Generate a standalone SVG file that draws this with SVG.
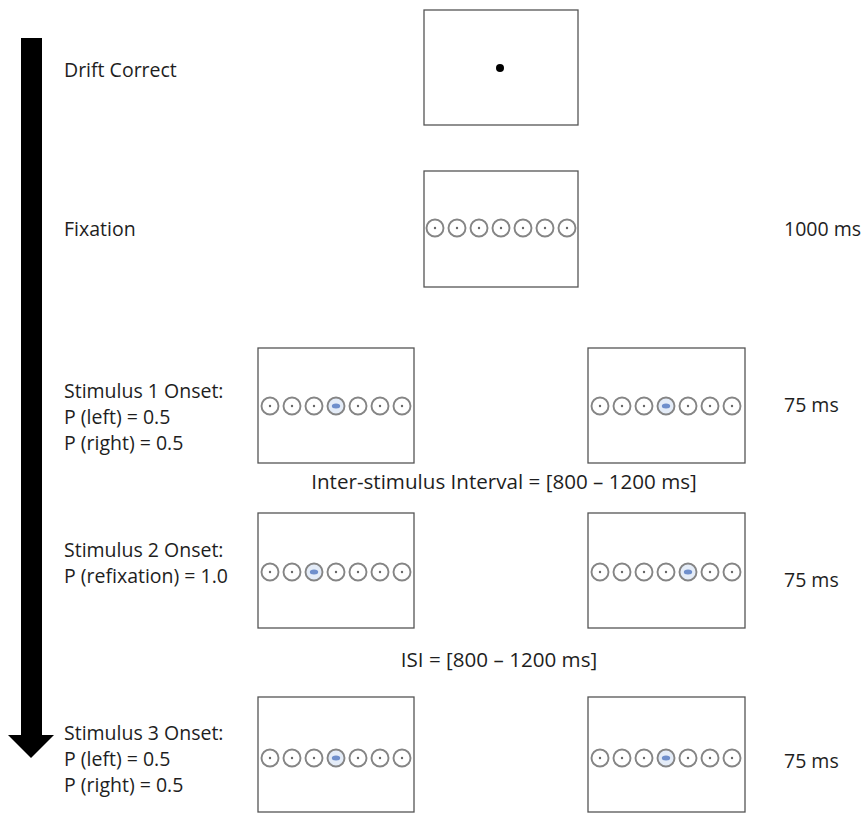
<svg xmlns="http://www.w3.org/2000/svg" xmlns:xlink="http://www.w3.org/1999/xlink" width="866" height="814" viewBox="0 0 866 814">
<style>
.box{fill:#fff;stroke:#555;stroke-width:1.3}
.t{font-family:"Open Sans","Liberation Sans",sans-serif;font-size:19.5px;fill:#1e1e1e}
.c{font-size:20.6px}
.ring{fill:#fff;stroke:#858585;stroke-width:1.9}
.dot{fill:#666}
.hl{fill:#e4ecf8;stroke:#858585;stroke-width:1.9}
.blue{fill:#6f8fcc}
</style>
<defs>
<g id="c"><circle class="ring" r="8.5"/><circle class="dot" r="1.2"/></g>
<g id="h"><circle class="hl" r="8.5"/><ellipse class="blue" rx="4.2" ry="2.5"/></g>
</defs>
<rect width="866" height="814" fill="#fff"/>
<g id="connectors">
<rect x="21" y="38" width="21" height="700" fill="#000"/>
<polygon points="8,735 54,735 31,758" fill="#000"/>
</g>
<g id="drift">
<rect class="box" x="424" y="10" width="154" height="115"/>
<circle cx="500" cy="68" r="4" fill="#000"/>
<text class="t" x="64" y="77">Drift Correct</text>
</g>
<g id="fixation">
<rect class="box" x="424" y="171" width="154" height="116"/>
<use xlink:href="#c" x="435" y="228"/><use xlink:href="#c" x="457" y="228"/><use xlink:href="#c" x="479" y="228"/><use xlink:href="#c" x="501" y="228"/><use xlink:href="#c" x="523" y="228"/><use xlink:href="#c" x="545" y="228"/><use xlink:href="#c" x="567" y="228"/>
<text class="t" x="64" y="236">Fixation</text>
<text class="t" x="784" y="236">1000 ms</text>
</g>
<g id="stim1">
<text class="t" x="64" y="398">Stimulus 1 Onset:</text>
<text class="t" x="64" y="424">P (left) = 0.5</text>
<text class="t" x="64" y="450">P (right) = 0.5</text>
<text class="t" x="784" y="412">75 ms</text>
</g>
<g id="stim1-left">
<rect class="box" x="258" y="348" width="156" height="115"/>
<use xlink:href="#c" x="270" y="406"/><use xlink:href="#c" x="292" y="406"/><use xlink:href="#c" x="314" y="406"/><use xlink:href="#h" x="336" y="406"/><use xlink:href="#c" x="358" y="406"/><use xlink:href="#c" x="380" y="406"/><use xlink:href="#c" x="402" y="406"/>
</g>
<g id="stim1-right">
<rect class="box" x="588" y="348" width="157" height="115"/>
<use xlink:href="#c" x="600" y="406"/><use xlink:href="#c" x="622" y="406"/><use xlink:href="#c" x="644" y="406"/><use xlink:href="#h" x="666" y="406"/><use xlink:href="#c" x="688" y="406"/><use xlink:href="#c" x="710" y="406"/><use xlink:href="#c" x="732" y="406"/>
</g>
<g id="isi1">
<text class="t c" x="504" y="489" text-anchor="middle">Inter-stimulus Interval = [800 – 1200 ms]</text>
</g>
<g id="stim2">
<text class="t" x="64" y="557">Stimulus 2 Onset:</text>
<text class="t" x="64" y="583">P (refixation) = 1.0</text>
<text class="t" x="784" y="587">75 ms</text>
</g>
<g id="stim2-left">
<rect class="box" x="258" y="513" width="156" height="115"/>
<use xlink:href="#c" x="270" y="572"/><use xlink:href="#c" x="292" y="572"/><use xlink:href="#h" x="314" y="572"/><use xlink:href="#c" x="336" y="572"/><use xlink:href="#c" x="358" y="572"/><use xlink:href="#c" x="380" y="572"/><use xlink:href="#c" x="402" y="572"/>
</g>
<g id="stim2-right">
<rect class="box" x="588" y="513" width="157" height="115"/>
<use xlink:href="#c" x="600" y="572"/><use xlink:href="#c" x="622" y="572"/><use xlink:href="#c" x="644" y="572"/><use xlink:href="#c" x="666" y="572"/><use xlink:href="#h" x="688" y="572"/><use xlink:href="#c" x="710" y="572"/><use xlink:href="#c" x="732" y="572"/>
</g>
<g id="isi2">
<text class="t c" x="499" y="667" text-anchor="middle">ISI = [800 – 1200 ms]</text>
</g>
<g id="stim3">
<text class="t" x="64" y="740">Stimulus 3 Onset:</text>
<text class="t" x="64" y="766">P (left) = 0.5</text>
<text class="t" x="64" y="792">P (right) = 0.5</text>
<text class="t" x="784" y="768">75 ms</text>
</g>
<g id="stim3-left">
<rect class="box" x="258" y="697" width="156" height="115"/>
<use xlink:href="#c" x="270" y="758"/><use xlink:href="#c" x="292" y="758"/><use xlink:href="#c" x="314" y="758"/><use xlink:href="#h" x="336" y="758"/><use xlink:href="#c" x="358" y="758"/><use xlink:href="#c" x="380" y="758"/><use xlink:href="#c" x="402" y="758"/>
</g>
<g id="stim3-right">
<rect class="box" x="588" y="697" width="157" height="115"/>
<use xlink:href="#c" x="600" y="758"/><use xlink:href="#c" x="622" y="758"/><use xlink:href="#c" x="644" y="758"/><use xlink:href="#h" x="666" y="758"/><use xlink:href="#c" x="688" y="758"/><use xlink:href="#c" x="710" y="758"/><use xlink:href="#c" x="732" y="758"/>
</g>
</svg>
